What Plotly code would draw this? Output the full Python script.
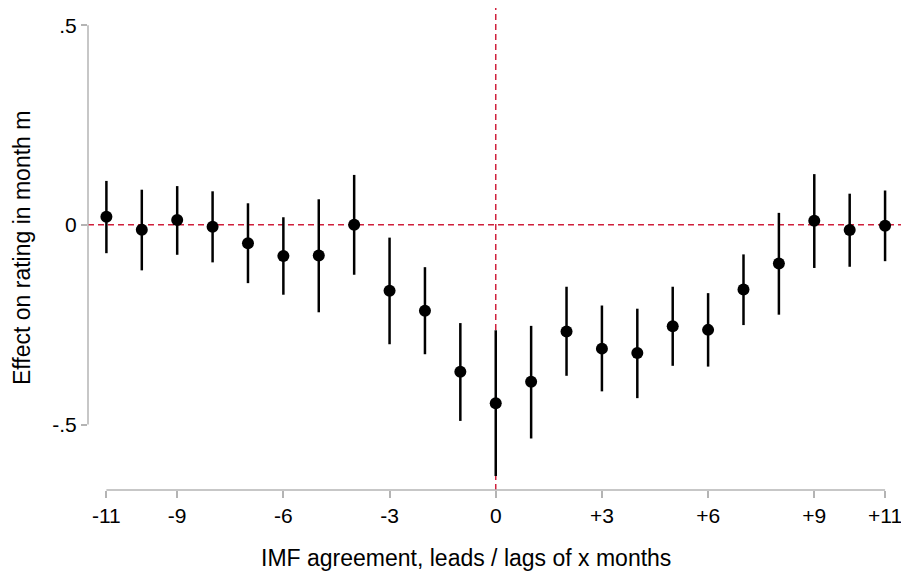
import plotly.graph_objects as go

months = list(range(-11, 12))
effect = [0.020, -0.0125, 0.012, -0.005, -0.046, -0.078, -0.077, 0.000, -0.165, -0.215, -0.368,
          -0.447, -0.393, -0.267, -0.310, -0.321, -0.254, -0.263, -0.162, -0.097, 0.010, -0.013, -0.0025]
ci_hi = [0.110, 0.088, 0.097, 0.084, 0.054, 0.019, 0.064, 0.125, -0.032, -0.106, -0.246,
         -0.264, -0.253, -0.155, -0.202, -0.210, -0.155, -0.171, -0.074, 0.030, 0.127, 0.078, 0.086]
ci_lo = [-0.071, -0.114, -0.075, -0.094, -0.146, -0.175, -0.219, -0.125, -0.299, -0.324, -0.491,
         -0.629, -0.535, -0.378, -0.417, -0.434, -0.353, -0.355, -0.251, -0.225, -0.108, -0.105, -0.091]

xtick_vals = [-11, -9, -6, -3, 0, 3, 6, 9, 11]
xtick_text = ["-11", "-9", "-6", "-3", "0", "+3", "+6", "+9", "+11"]
ytick_vals = [-0.5, 0, 0.5]
ytick_text = ["-.5", "0", ".5"]

x_title = "IMF agreement, leads / lags of x months"
y_title = "Effect on rating in month m"

err_plus = [h - e for h, e in zip(ci_hi, effect)]
err_minus = [e - l for e, l in zip(effect, ci_lo)]

axis_grey = "#b4b4b4"
ref_red = "#d0203c"
font_fam = "Liberation Sans, Arial, Helvetica, sans-serif"
tick_fs = 21
title_fs = 23

fig = go.Figure()

fig.add_trace(go.Scatter(
    x=months, y=effect, mode="markers",
    marker=dict(color="black", size=12),
    error_y=dict(type="data", symmetric=False, array=err_plus, arrayminus=err_minus,
                 color="black", thickness=2.5, width=0),
    showlegend=False,
))

# reference lines
fig.add_shape(type="line", xref="paper", yref="y", x0=0, x1=1, y0=0, y1=0,
              line=dict(color=ref_red, width=1.5, dash="6px,4px"), layer="below")
fig.add_shape(type="line", xref="x", yref="paper", x0=0, x1=0, y0=0, y1=1,
              line=dict(color=ref_red, width=1.5, dash="6px,4px"), layer="below")

# axis lines spanning the tick range only
fig.add_shape(type="line", xref="paper", yref="y", x0=0, x1=0,
              y0=min(ytick_vals), y1=max(ytick_vals),
              line=dict(color=axis_grey, width=1.5))
fig.add_shape(type="line", xref="x", yref="paper", x0=min(xtick_vals), x1=max(xtick_vals),
              y0=0, y1=0, line=dict(color=axis_grey, width=1.5))

# axis titles
fig.add_annotation(text=x_title, xref="paper", yref="paper", x=(466 - 88) / 813, y=0,
                   yshift=-68, xanchor="center", yanchor="middle", showarrow=False,
                   font=dict(size=title_fs))
fig.add_annotation(text=y_title, xref="paper", yref="paper", x=0, y=(490 - 248) / 482,
                   xshift=-66, xanchor="center", yanchor="middle", showarrow=False,
                   textangle=-90, font=dict(size=title_fs))

fig.update_layout(
    width=901, height=577,
    margin=dict(l=88, r=0, t=8, b=87, autoexpand=False),
    plot_bgcolor="white", paper_bgcolor="white",
    font=dict(family=font_fam, size=tick_fs, color="black"),
    xaxis=dict(range=[-11.52, 11.45], tickvals=xtick_vals, ticktext=xtick_text,
               ticks="outside", ticklen=7, tickwidth=1.5, tickcolor=axis_grey,
               showgrid=False, zeroline=False, showline=False, automargin=False,
               ticklabeloverflow="allow", tickfont=dict(size=tick_fs)),
    yaxis=dict(range=[-0.664, 0.543], tickvals=ytick_vals, ticktext=ytick_text,
               ticks="outside", ticklen=6, tickwidth=1.5, tickcolor=axis_grey,
               showgrid=False, zeroline=False, showline=False, automargin=False,
               ticklabeloverflow="allow", tickfont=dict(size=tick_fs)),
)

fig.write_html("out.html", config={"displayModeBar": False},
               post_script="document.body.style.margin='0';")
